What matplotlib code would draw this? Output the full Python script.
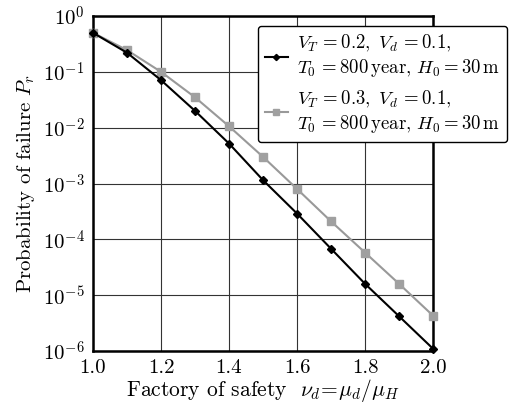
import matplotlib
matplotlib.use("Agg")
import matplotlib.pyplot as plt
import numpy as np

plt.rcParams['font.family'] = 'serif'
plt.rcParams['font.serif'] = ['cmr10']
plt.rcParams['mathtext.fontset'] = 'cm'
plt.rcParams['axes.formatter.use_mathtext'] = True

# safety factor values
nu_d = [1.0, 1.1, 1.2, 1.3, 1.4, 1.5, 1.6, 1.7, 1.8, 1.9, 2.0]
# V_T = 0.2
pf_vt02 = [0.5, 0.22, 0.071, 0.020, 5.2e-3, 1.15e-3, 2.9e-4, 6.8e-5, 1.6e-5, 4.2e-6, 1.1e-6]
# V_T = 0.3
pf_vt03 = [0.5, 0.245, 0.10, 0.035, 0.0106, 3.0e-3, 8.0e-4, 2.1e-4, 5.8e-5, 1.6e-5, 4.3e-6]

label_02 = '$V_T\\,{=}0.2,\\ V_d\\,{=}0.1,$\n$T_0\\,{=}800\\,\\mathrm{year},\\,H_0{=}30\\,\\mathrm{m}$'
label_03 = '$V_T\\,{=}0.3,\\ V_d\\,{=}0.1,$\n$T_0\\,{=}800\\,\\mathrm{year},\\,H_0{=}30\\,\\mathrm{m}$'

fig = plt.figure(figsize=(5.13, 4.03), dpi=100)
ax = fig.add_axes([93/513, 1 - 351/403, 340/513, 335/403])

ax.plot(nu_d, pf_vt02, color='black', lw=1.5, marker='D', ms=4.5, label=label_02, zorder=4, clip_on=False)
ax.plot(nu_d, pf_vt03, color='#999999', lw=1.5, marker='s', ms=5.5, mfc='#a0a0a0', mec='#a0a0a0',
        label=label_03, zorder=3, clip_on=False)

ax.set_yscale('log')
ax.set_xlim(1.0, 2.0)
ax.set_ylim(1e-6, 1e0)
ax.set_xticks([1.0, 1.2, 1.4, 1.6, 1.8, 2.0])
ax.set_xticklabels(['1.0', '1.2', '1.4', '1.6', '1.8', '2.0'])
ax.set_yticks([1e0, 1e-1, 1e-2, 1e-3, 1e-4, 1e-5, 1e-6])
ax.set_yticklabels(['$10^{0}$', '$10^{-1}$', '$10^{-2}$', '$10^{-3}$', '$10^{-4}$', '$10^{-5}$', '$10^{-6}$'])
ax.minorticks_off()
ax.tick_params(labelsize=15, length=0, pad=6)
ax.grid(True, color='#333333', lw=0.8)
for s in ax.spines.values():
    s.set_linewidth(1.8)

ax.set_xlabel('Factory of safety  $\\nu_d\\!=\\!\\mu_d/\\mu_H$', fontsize=15.5, labelpad=0)
ax.set_ylabel('Probability of failure $P_r$', fontsize=15, labelpad=4)

leg = fig.legend(loc='upper left', bbox_to_anchor=(252/513, 1 - 20/403), fontsize=13.5,
                 frameon=True, fancybox=True, edgecolor='black', framealpha=1,
                 handlelength=1.2, labelspacing=0.5, borderpad=0.4, handletextpad=0.5,
                 borderaxespad=0.3, markerscale=0.7)
leg.get_frame().set_linewidth(1.0)

fig.savefig('out.png', dpi=100)
